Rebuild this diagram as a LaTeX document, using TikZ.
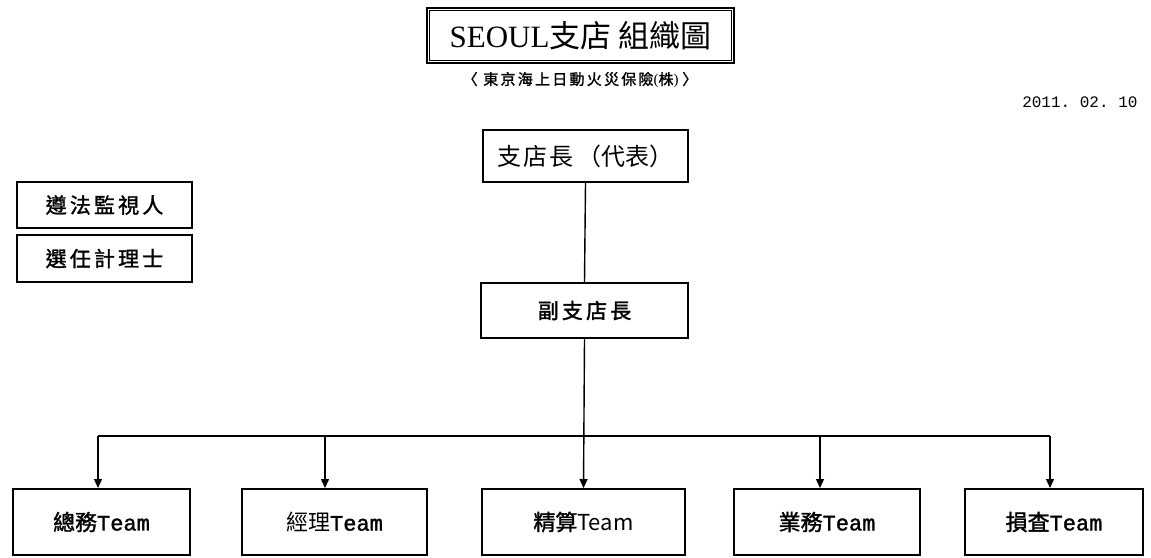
\documentclass[tikz,border=0pt]{standalone}
\usepackage{fontspec}
\setmainfont{Liberation Serif}
\setmonofont{Liberation Mono}
\newfontfamily\cjk{Noto Sans CJK TC}
\newfontfamily\cjkb{Noto Sans CJK TC}[FakeBold=1.5]
\newfontfamily\cjkbs{Noto Sans CJK TC}[FakeBold=1.5,LetterSpace=15]
\newfontfamily\cjks{Noto Sans CJK TC}[LetterSpace=8]
\newfontfamily\monob{Liberation Mono}[FakeBold=1.5]
\usetikzlibrary{arrows.meta}
\begin{document}
\begin{tikzpicture}[x=1pt,y=-1pt,
  box/.style={draw=black,line width=2pt,minimum width=#1,inner sep=0pt},
  conn/.style={line width=1.4pt},
  arr/.style={conn,-{Triangle[length=9pt,width=8pt]}},
  tlabel/.style={font=\fontsize{22}{24}\selectfont}]
\useasboundingbox (0,0) rectangle (1151,557);
% title
\node[box=307pt,minimum height=55pt,line width=2.6pt] (title) at (580.5,35.5) {};
\draw[line width=0.9pt] ([shift={(4pt,-4pt)}]title.north west) rectangle ([shift={(-4pt,4pt)}]title.south east);
\node[font=\fontsize{31}{33}\selectfont] (ttext) at (title.center) {SEOUL{\cjk 支店 組織圖}};
\node[font=\fontsize{15}{17}\selectfont] (sub) at (580,80) {{\cjkbs 〈 東京海上日動火災保險}({\cjkb 株}) {\cjkb 〉}};
\node[font=\fontsize{16}{18}\selectfont\ttfamily,anchor=east] (date) at (1141,102) {2011. 02. 10};
% head
\node[box=205pt,minimum height=52pt,font=\fontsize{24}{26}\selectfont] (head) at (585.5,156) {{\cjks 支店長}\,{\cjk （代表）}};
\node[box=207pt,minimum height=55pt,font=\fontsize{21}{23}\selectfont] (vice) at (584.5,310.5) {\cjkbs 副支店長};
% left
\node[box=175pt,minimum height=46pt,font=\fontsize{21}{23}\selectfont] (comp) at (104.5,205) {\cjkbs 遵法監視人};
\node[box=175pt,minimum height=47pt,font=\fontsize{21}{23}\selectfont] (act) at (104.5,258.5) {\cjkbs 選任計理士};
% teams
\node[box=177pt,minimum height=66pt,tlabel] (t1) at (101.5,522) {{\cjkb 總務}{\monob Team}};
\node[box=185pt,minimum height=66pt,tlabel] (t2) at (334.5,522) {{\cjk 經理}{\monob Team}};
\node[box=203pt,minimum height=66pt,tlabel] (t3) at (583.5,522) {{\cjkb 精算}{\cjk Team}};
\node[box=186pt,minimum height=66pt,tlabel] (t4) at (827,522) {{\cjkb 業務}{\monob Team}};
\node[box=178pt,minimum height=66pt,tlabel] (t5) at (1054,522) {{\cjkb 損査}{\monob Team}};
% connectors
\draw[conn] (head.south) -- (vice.north);
\draw[arr] (vice.south) -- (t3.north);
\coordinate (b1) at (98,436);
\coordinate (b2) at (325,436);
\coordinate (b4) at (820,436);
\coordinate (b5) at (1050,436);
\draw[conn] (b1) -- (b5);
\draw[arr] (b1) -- (b1 |- t1.north);
\draw[arr] (b2) -- (b2 |- t2.north);
\draw[arr] (b4) -- (b4 |- t4.north);
\draw[arr] (b5) -- (b5 |- t5.north);
\end{tikzpicture}
\end{document}
